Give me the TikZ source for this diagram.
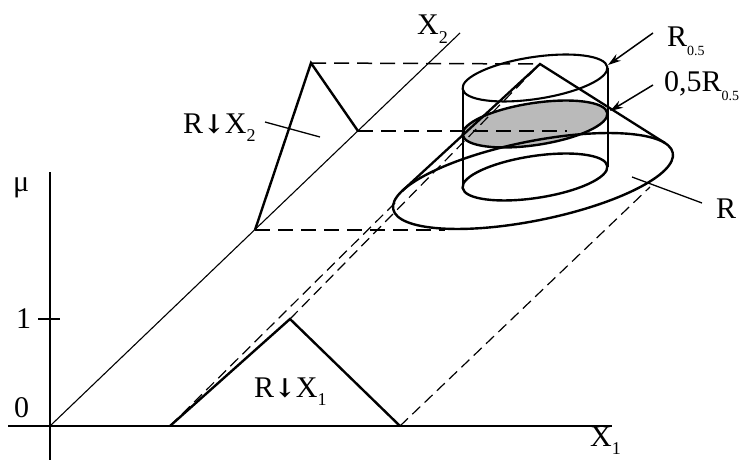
\documentclass[tikz,border=0pt]{standalone}
\usepackage{fontspec}
\setmainfont{Liberation Serif}
\newfontfamily\arrowfont{DejaVu Serif}
\usetikzlibrary{arrows.meta}
\newcommand{\smallsub}[1]{\raisebox{-0.28em}{\fontsize{14}{14}\selectfont #1}}
\newcommand{\midsub}[1]{\raisebox{-0.28em}{\fontsize{18}{18}\selectfont #1}}
\newcommand{\darr}{{\arrowfont\bfseries\fontsize{26}{28}\selectfont ↓}}
\begin{document}
\begin{tikzpicture}[x=1pt,y=-1pt,
  axis/.style={line width=1.3pt},
  thinaxis/.style={line width=1.1pt},
  proj/.style={line width=2.4pt, line join=miter},
  ell/.style={line width=2.4pt},
  cylside/.style={line width=2pt},
  gener/.style={line width=2.3pt},
  hdash/.style={line width=1.5pt, dash pattern=on 15pt off 8pt},
  ddash/.style={line width=1.2pt, dash pattern=on 11pt off 6pt},
  leader/.style={line width=1.3pt},
  pointer/.style={line width=1.5pt, -{Stealth[length=13pt,width=8pt]}},
  lab/.style={font=\fontsize{30}{32}\selectfont, inner sep=0pt, anchor=base west},
  shade/.style={fill=black!27}]
\useasboundingbox (0,0) rectangle (747,460);
% key points
\coordinate (O) at (50,426);
\coordinate (muT) at (50,172);
\coordinate (muB) at (50,460);
\coordinate (x1L) at (8,426);
\coordinate (x1R) at (612,426);
\coordinate (x2E) at (460,33);
\coordinate (tickA) at (38,319);
\coordinate (tickB) at (60,319);
\coordinate (L1) at (170,426);
\coordinate (P1) at (290,319);
\coordinate (R1) at (400,426);
\coordinate (L2) at (255,230);
\coordinate (P2) at (311,63);
\coordinate (R2) at (358,131);
\coordinate (A) at (540,64);
\coordinate (Cbig) at (533,181);
\coordinate (Ctop) at (535,78);
\coordinate (Cmid) at (535,124);
\coordinate (Cbot) at (535,177);
\coordinate (TL) at (402.2,190.9);
\coordinate (TR) at (665,143);
\coordinate (DL) at (395,203);
\coordinate (DR) at (650,187);
\coordinate (H1) at (540,64);
\coordinate (H2) at (567,131);
\coordinate (H3) at (445,230);
\coordinate (cylTL) at (462.5,88);
\coordinate (cylBL) at (462.5,187);
\coordinate (cylTR) at (607.5,68);
\coordinate (cylBR) at (607.5,167);

% shaded alpha-cut
\fill[shade, rotate around={8.6:(Cmid)}] (Cmid) ellipse [x radius=73.2pt, y radius=21pt];

% axes
\draw[axis] (muT) -- (muB);
\draw[axis] (x1L) -- (x1R);
\draw[axis] (tickA) -- (tickB);
\draw[thinaxis] (O) -- (x2E);

% dashed projection lines
\draw[hdash] (P2) -- (H1);
\draw[hdash] (R2) -- (H2);
\draw[hdash] (L2) -- (H3);
\draw[ddash] (L1) -- (DL);
\draw[ddash] (P1) -- (A);
\draw[ddash] (R1) -- (DR);

% projections
\draw[proj] (L1) -- (P1) -- (R1);
\draw[proj] (L2) -- (P2) -- (R2);

% fuzzy relation R (cone)
\draw[ell, rotate around={11.4:(Cbig)}] (Cbig) ellipse [x radius=142.6pt, y radius=39.6pt];
\draw[gener] (TL) -- (A) -- (TR);

% cylinder R_0.5
\draw[ell, line width=2.1pt, rotate around={8.6:(Ctop)}] (Ctop) ellipse [x radius=73.2pt, y radius=21pt];
\draw[ell, rotate around={8.6:(Cmid)}] (Cmid) ellipse [x radius=73.2pt, y radius=21pt];
\draw[ell, rotate around={8.6:(Cbot)}] (Cbot) ellipse [x radius=73.2pt, y radius=21pt];
\draw[cylside] (cylTL) -- (cylBL);
\draw[cylside] (cylTR) -- (cylBR);

% leaders and pointers
\coordinate (lx2a) at (265,122);
\coordinate (lx2b) at (320,137);
\draw[leader] (lx2a) -- (lx2b);
\coordinate (lra) at (632,177);
\coordinate (lrb) at (702,203);
\draw[leader] (lra) -- (lrb);
\coordinate (pa1) at (653,33);
\coordinate (pb1) at (608,65);
\draw[pointer] (pa1) -- (pb1);
\coordinate (pa2) at (653,85);
\coordinate (pb2) at (610,111);
\draw[pointer] (pa2) -- (pb2);

% labels
\node[lab] (lmu) at (13,191) {μ};
\node[lab] (lone) at (16,328) {1};
\node[lab] (lzero) at (14,417) {0};
\node[lab] (lX1) at (590,446) {X\midsub{1}};
\node[lab] (lX2) at (417,35) {X\midsub{2}};
\node[lab] (lRX2) at (183,133) {R\darr X\midsub{2}};
\node[lab] (lRX1) at (254,397) {R\darr X\midsub{1}};
\node[lab] (lR05) at (667,47) {R\smallsub{0.5}};
\node[lab] (l05R05) at (664,92) {0,5R\smallsub{0.5}};
\node[lab] (lR) at (716,218) {R};
\end{tikzpicture}
\end{document}
